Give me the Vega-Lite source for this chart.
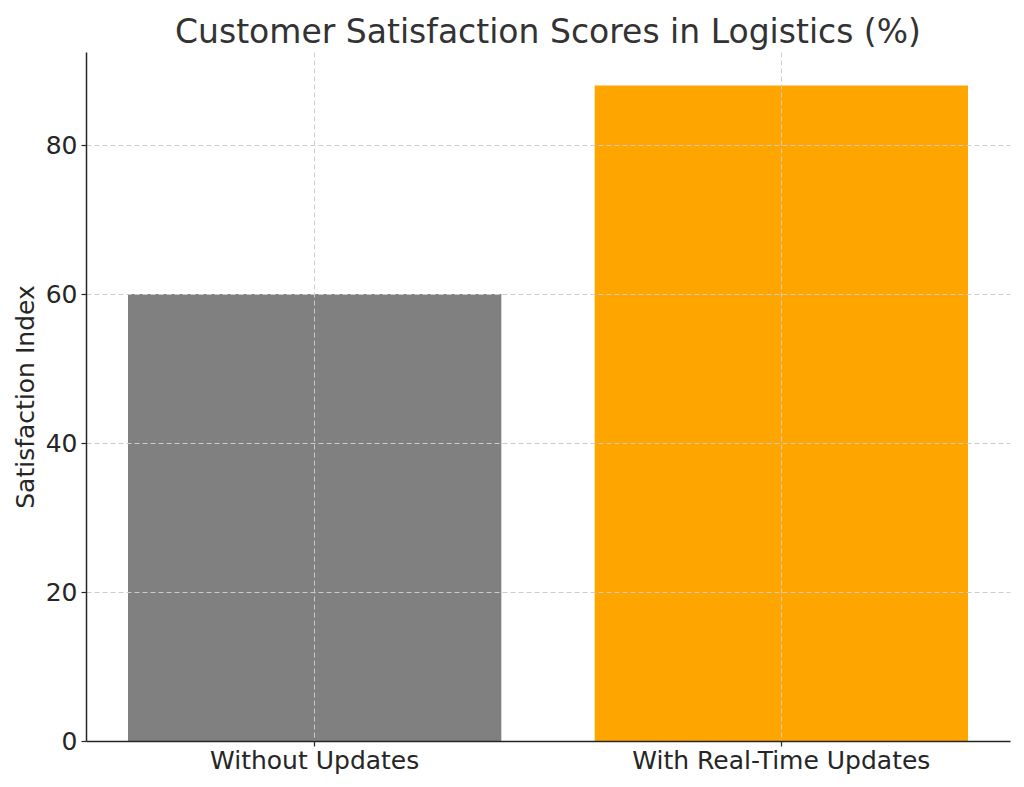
{
  "$schema": "https://vega.github.io/schema/vega-lite/v6.json",
  "autosize": {"type": "none"},
  "padding": {"left": 86, "top": 52, "right": 14, "bottom": 46},
  "width": 924,
  "height": 689,
  "background": "white",
  "config": {
    "font": "DejaVu Sans",
    "view": {"stroke": null}
  },
  "title": {
    "text": "Customer Satisfaction Scores in Logistics (%)",
    "fontSize": 33,
    "fontWeight": "normal",
    "color": "#333333",
    "anchor": "middle",
    "frame": "group",
    "baseline": "alphabetic",
    "offset": 10,
    "dy": 34
  },
  "data": {
    "values": [
      {"category": "Without Updates", "score": 60},
      {"category": "With Real-Time Updates", "score": 88}
    ]
  },
  "mark": {"type": "bar"},
  "encoding": {
    "x": {
      "field": "category",
      "type": "nominal",
      "sort": null,
      "scale": {"paddingInner": 0.2, "paddingOuter": 0.09},
      "axis": {
        "title": null,
        "labelAngle": 0,
        "labelFontSize": 25,
        "labelLimit": 0,
        "labelColor": "#262626",
        "labelPadding": 2,
        "tickSize": 5,
        "tickColor": "#262626",
        "tickWidth": 1.2,
        "domainColor": "#262626",
        "domainWidth": 1.5,
        "bandPosition": 0.5,
        "grid": true,
        "gridColor": "#cccccc",
        "gridDash": [5, 3],
        "gridWidth": 1,
        "zindex": 1
      }
    },
    "y": {
      "field": "score",
      "type": "quantitative",
      "scale": {"domain": [0, 92.5], "nice": false, "zero": true},
      "axis": {
        "title": "Satisfaction Index",
        "titleFontSize": 25,
        "titleFontWeight": "normal",
        "titleColor": "#262626",
        "titlePadding": 7,
        "values": [0, 20, 40, 60, 80],
        "labelFontSize": 25,
        "labelColor": "#262626",
        "labelPadding": 4,
        "tickSize": 5,
        "tickColor": "#262626",
        "tickWidth": 1.2,
        "domainColor": "#262626",
        "domainWidth": 1.5,
        "grid": true,
        "gridColor": "#cccccc",
        "gridDash": [5, 3],
        "gridWidth": 1,
        "zindex": 1
      }
    },
    "color": {
      "field": "category",
      "type": "nominal",
      "scale": {"domain": ["Without Updates", "With Real-Time Updates"], "range": ["#808080", "#FFA500"]},
      "legend": null
    }
  }
}
